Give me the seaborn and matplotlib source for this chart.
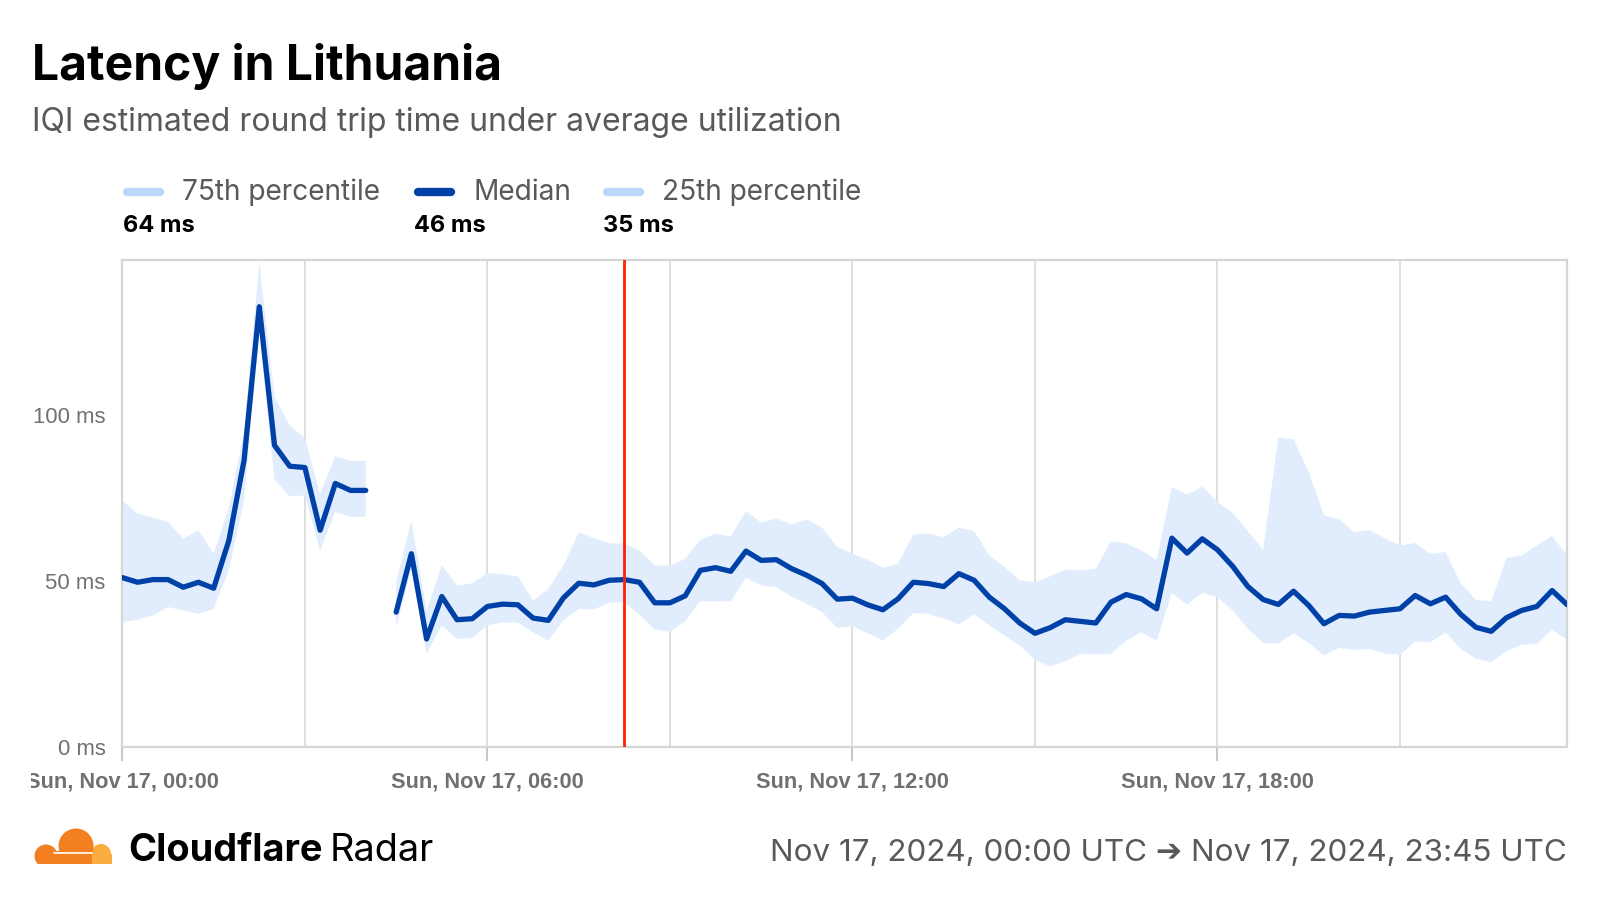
import numpy as np
import pandas as pd
import matplotlib
matplotlib.use("Agg")
import matplotlib.pyplot as plt
import seaborn as sns
from matplotlib.lines import Line2D
from matplotlib.patches import Circle, Rectangle
from matplotlib.transforms import Bbox, TransformedBbox

# ---------------- data ----------------
TITLE = "Latency in Lithuania"
SUBTITLE = "IQI estimated round trip time under average utilization"
SERIES_NAMES = ["75th percentile", "Median", "25th percentile"]
SERIES_SUMMARY = ["64 ms", "46 ms", "35 ms"]
X_TICK_HOURS = [0, 6, 12, 18]
X_TICK_LABELS = ["Sun, Nov 17, 00:00", "Sun, Nov 17, 06:00",
                 "Sun, Nov 17, 12:00", "Sun, Nov 17, 18:00"]
Y_TICKS = [0, 50, 100]
Y_TICK_LABELS = ["0 ms", "50 ms", "100 ms"]
MARKER_HOUR = 8.25
DATE_RANGE = "Nov 17, 2024, 00:00 UTC \u2794 Nov 17, 2024, 23:45 UTC"
START = "2024-11-17 00:00"

nan = np.nan
p75 = [74.3, 70.3, 69.1, 67.8, 62.7, 65.3, 58.2, 72.0, 95.0, 146.0,
       105.5, 97.0, 93.0, 76.3, 87.6, 86.2, 86.2, nan, 49.6, 68.3,
       41.1, 54.7, 48.6, 49.3, 52.4, 52.0, 51.4, 44.1, 47.6, 54.7,
       64.6, 62.9, 61.4, 61.2, 59.2, 54.7, 54.5, 56.7, 62.4, 64.3,
       63.4, 71.0, 67.6, 68.8, 67.0, 68.5, 66.1, 60.2, 58.2, 56.4,
       54.0, 55.2, 64.0, 64.3, 63.2, 66.1, 65.0, 57.7, 54.2, 50.2,
       49.6, 51.4, 53.4, 53.2, 53.7, 61.9, 61.4, 59.2, 56.4, 78.2,
       76.1, 78.4, 73.8, 70.5, 65.0, 59.4, 93.3, 92.7, 82.9, 69.8,
       68.5, 64.7, 65.3, 62.9, 60.7, 61.4, 58.2, 58.7, 49.3, 44.3,
       43.9, 56.9, 57.7, 60.7, 63.5, 57.7]
median = [51.0, 49.6, 50.4, 50.4, 48.1, 49.6, 47.8, 62.2, 86.4, 132.7,
          90.9, 84.6, 84.2, 65.3, 79.4, 77.3, 77.3, nan, 40.6, 58.2,
          32.5, 45.3, 38.3, 38.6, 42.3, 43.0, 42.8, 38.8, 38.1, 44.9,
          49.3, 48.8, 50.2, 50.4, 49.6, 43.4, 43.4, 45.5, 53.2, 54.0,
          52.9, 59.0, 56.2, 56.4, 53.7, 51.7, 49.2, 44.5, 44.8, 42.8,
          41.3, 44.6, 49.6, 49.2, 48.3, 52.2, 50.2, 45.1, 41.6, 37.3,
          34.2, 35.9, 38.3, 37.8, 37.3, 43.6, 45.9, 44.6, 41.6, 62.9,
          58.4, 62.7, 59.4, 54.4, 48.3, 44.4, 42.9, 46.9, 42.6, 37.1,
          39.6, 39.4, 40.6, 41.1, 41.6, 45.6, 43.1, 45.1, 39.9, 36.0,
          34.8, 38.9, 41.1, 42.3, 47.1, 42.8]
p25 = [37.6, 38.3, 39.6, 42.1, 41.1, 40.1, 41.6, 53.2, 74.3, 125.0,
       80.6, 75.5, 75.8, 59.2, 70.8, 69.3, 69.3, nan, 36.0, 53.7,
       28.0, 36.6, 32.5, 32.8, 36.6, 37.5, 37.4, 34.5, 32.0, 38.1,
       41.6, 41.4, 43.4, 43.6, 39.8, 35.3, 34.7, 37.8, 43.9, 43.9,
       43.8, 51.0, 48.6, 48.1, 45.3, 43.1, 40.6, 35.9, 36.3, 34.2,
       32.0, 35.6, 40.3, 40.1, 38.6, 36.9, 39.9, 36.6, 33.5, 30.5,
       26.2, 24.2, 25.8, 28.0, 27.8, 28.0, 32.0, 34.5, 32.0, 46.3,
       42.9, 46.4, 45.1, 41.1, 35.6, 31.2, 31.2, 34.2, 31.3, 27.5,
       29.8, 29.2, 29.5, 28.0, 27.7, 31.7, 31.5, 34.5, 29.5, 26.5,
       25.5, 28.8, 30.7, 31.0, 35.3, 32.2]

# ---------------- styling ----------------
MEDIAN_COLOR = "#0041a8"
BAND_COLOR = "#e1edfd"
SWATCH_LIGHT = "#bcd7fb"
GRID_COLOR = "#dcdcdc"
TEXT_GREY = "#595959"
TICK_GREY = "#707070"

W, H = 1600, 900


def fx(px):
    return px / W


def fy(py):
    return 1 - py / H


sns.set_theme(style="white")
plt.rcParams["font.family"] = ["Inter", "DejaVu Sans"]

times = pd.date_range(START, periods=len(median), freq="15min")
hours = (times - times[0]) / pd.Timedelta(hours=1)
df = pd.DataFrame({"hour": hours, "p75": p75, "median": median, "p25": p25})
df["segment"] = df["median"].isna().cumsum()

fig = plt.figure(figsize=(16, 9), dpi=100)
fig.patch.set_facecolor("white")
ax = fig.add_axes([fx(122.4), fy(746.7), fx(1567.3 - 122.4), (746.7 - 260) / H])

ax.fill_between(df["hour"], df["p25"], df["p75"], color=BAND_COLOR, lw=0, zorder=1)
sns.lineplot(data=df.dropna(), x="hour", y="median", units="segment",
             estimator=None, color=MEDIAN_COLOR, lw=3.8, ax=ax,
             legend=False, zorder=3)
ax.axvline(MARKER_HOUR, color="#ff2200", lw=2, zorder=4)

ax.set_xlim(0, hours[-1])
ax.set_ylim(0, 146.8)
ax.set_xlabel("")
ax.set_ylabel("")

ax.set_xticks(X_TICK_HOURS)
ax.set_xticks([h + 3 for h in X_TICK_HOURS], minor=True)
ax.set_xticklabels(X_TICK_LABELS, fontfamily="Liberation Sans",
                   fontweight="bold", fontsize=15.7, color=TICK_GREY)
ax.set_yticks(Y_TICKS)
ax.set_yticklabels(Y_TICK_LABELS, fontfamily="Liberation Sans",
                   fontsize=15.9, color=TICK_GREY)
ax.tick_params(axis="x", which="major", length=10, width=1.5,
               color="#c8c8c8", direction="out", pad=8, bottom=True)
ax.tick_params(axis="x", which="minor", length=0)
ax.tick_params(axis="y", length=0, pad=12)
ax.grid(False)
ax.grid(True, axis="x", which="both", color=GRID_COLOR, lw=1.3, zorder=0)
ax.set_axisbelow(True)
for s in ax.spines.values():
    s.set_color("#d6d6d6")
    s.set_linewidth(1.6)

# clip first x label like the reference
lab0 = ax.get_xticklabels()[0]
lab0.set_clip_box(TransformedBbox(Bbox([[fx(31), 0], [1, 1]]), fig.transFigure))
lab0.set_clip_on(True)

# ---------------- titles ----------------
fig.text(fx(32), fy(79.5), TITLE, fontsize=34.6, fontweight="bold",
         color="black", va="baseline", ha="left")
fig.text(fx(32), fy(131.5), SUBTITLE, fontsize=23, color=TEXT_GREY,
         va="baseline", ha="left")

# ---------------- legend ----------------
legend_x = [123, 414, 603]
swatch_colors = [SWATCH_LIGHT, MEDIAN_COLOR, SWATCH_LIGHT]
for name, summ, x0, c in zip(SERIES_NAMES, SERIES_SUMMARY, legend_x, swatch_colors):
    fig.add_artist(Line2D([fx(x0 + 4), fx(x0 + 37)], [fy(191.7), fy(191.7)],
                          transform=fig.transFigure, color=c, lw=6,
                          solid_capstyle="round"))
    fig.text(fx(x0 + 59), fy(200.5), name, fontsize=20.2, color=TEXT_GREY,
             va="baseline", ha="left")
    fig.text(fx(x0), fy(231.5), summ, fontsize=17, fontweight="bold",
             color="black", va="baseline", ha="left")

# ---------------- footer ----------------
lax = fig.add_axes([fx(30), fy(863.5), fx(85), (863.5 - 825) / H])
lax.set_xlim(30, 115)
lax.set_ylim(863.5, 825)
lax.axis("off")
ORANGE = "#f38020"
LIGHT_ORANGE = "#fbad41"
lax.add_patch(Circle((101, 854), 10, color=LIGHT_ORANGE, lw=0))
lax.add_patch(Rectangle((92, 854), 20, 10, color=LIGHT_ORANGE, lw=0))
lax.add_patch(Circle((76, 846), 17.5, color=ORANGE, lw=0))
lax.add_patch(Circle((46, 856), 11.5, color=ORANGE, lw=0))
lax.add_patch(Rectangle((40, 851), 52, 13, color=ORANGE, lw=0))
lax.plot([54, 92], [853, 853], color="white", lw=1.2)

t1 = fig.text(fx(128.5), fy(861), "Cloudflare", fontsize=27.3, fontweight="bold",
              color="black", va="baseline", ha="left")
fig.text(fx(1567), fy(861), DATE_RANGE, fontsize=22.6, color=TEXT_GREY,
         va="baseline", ha="right", family=["Inter", "DejaVu Sans"])
fig.canvas.draw()
bb = t1.get_window_extent()
fig.text(bb.x1 / W + fx(7), fy(861), "Radar", fontsize=27.3, color="black",
         va="baseline", ha="left")

fig.savefig("out.png", dpi=100, facecolor="white")
